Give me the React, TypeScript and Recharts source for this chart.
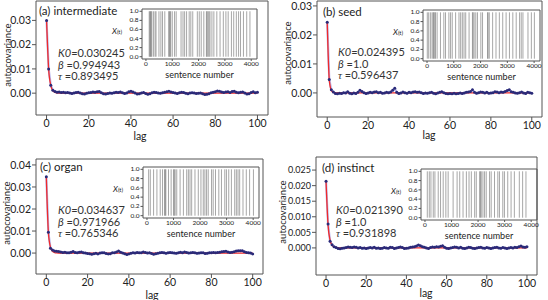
import React from 'react'
import { ComposedChart, Line, XAxis, YAxis, ReferenceArea, ReferenceLine } from 'recharts'

// lag 0..100
const lags = Array.from({ length: 101 }, (_, i) => i)

const acovA = [
  0.0300, 0.0100, 0.0033, 0.0012, 0.0007, 0.0004, 0.0005, 0.0003, 0.0004, 0.0002,
  0.0003, 0.0001, -0.0001, 0.0001, 0.0003, 0.0004, 0.0001, -0.0002, -0.0003, 0.0000,
  0.0002, 0.0003, 0.0005, 0.0004, 0.0006, 0.0007, 0.0002, -0.0002, -0.0003, -0.0001,
  0.0001, 0.0000, 0.0002, 0.0004, 0.0003, 0.0005, 0.0002, -0.0001, 0.0001, 0.0006,
  0.0008, 0.0005, 0.0001, -0.0003, -0.0002, 0.0001, 0.0003, -0.0001, -0.0004, -0.0002,
  0.0002, 0.0004, 0.0003, 0.0001, 0.0000, 0.0002, 0.0004, 0.0006, 0.0008, 0.0005,
  0.0003, 0.0001, -0.0001, 0.0002, 0.0004, 0.0003, 0.0000, -0.0002, 0.0001, 0.0002,
  0.0001, -0.0001, 0.0000, 0.0001, -0.0002, -0.0005, -0.0004, -0.0002, 0.0002, 0.0004,
  0.0006, 0.0009, 0.0008, 0.0005, 0.0003, 0.0005, 0.0006, 0.0003, 0.0007, 0.0008,
  0.0004, 0.0002, 0.0004, 0.0005, 0.0001, -0.0003, -0.0002, 0.0003, 0.0006, 0.0002,
  0.0004,
]
const acovB = [
  0.0244, 0.0046, 0.0011, 0.0003, -0.0002, -0.0003, -0.0001, -0.0002, 0.0001, 0.0000,
  0.0004, -0.0001, -0.0003, 0.0000, -0.0002, 0.0002, 0.0009, 0.0005, 0.0001, -0.0002,
  0.0000, 0.0002, 0.0001, 0.0003, 0.0004, 0.0001, 0.0002, -0.0001, 0.0000, 0.0002,
  0.0001, 0.0003, 0.0009, 0.0016, 0.0002, -0.0002, 0.0000, 0.0003, 0.0001, -0.0001,
  0.0002, 0.0001, 0.0003, 0.0004, 0.0002, 0.0003, 0.0001, -0.0002, 0.0000, -0.0001,
  0.0001, 0.0002, -0.0001, -0.0003, 0.0000, 0.0002, 0.0004, 0.0001, -0.0002, -0.0003,
  -0.0002, -0.0003, -0.0001, -0.0003, -0.0002, 0.0000, -0.0002, 0.0000, 0.0002, 0.0003,
  0.0005, 0.0011, 0.0002, -0.0001, 0.0001, 0.0003, 0.0002, 0.0000, 0.0002, -0.0001,
  0.0000, 0.0001, 0.0004, 0.0003, 0.0001, 0.0003, 0.0002, 0.0005, 0.0008, 0.0011,
  0.0004, 0.0002, 0.0000, -0.0001, 0.0001, 0.0003, 0.0000, -0.0002, 0.0002, 0.0001,
  -0.0001,
]
const acovC = [
  0.0346, 0.0095, 0.0022, 0.0014, 0.0009, 0.0008, 0.0007, 0.0005, 0.0003, 0.0004,
  0.0001, 0.0002, 0.0004, 0.0007, 0.0003, 0.0001, 0.0004, 0.0005, 0.0002, 0.0000,
  -0.0002, -0.0003, -0.0005, -0.0003, -0.0001, -0.0004, 0.0000, 0.0002, 0.0001, -0.0002,
  -0.0004, -0.0003, 0.0001, 0.0002, 0.0005, 0.0009, 0.0004, 0.0000, -0.0003, -0.0006,
  -0.0004, -0.0001, 0.0002, 0.0000, 0.0003, 0.0001, 0.0002, 0.0005, 0.0003, 0.0000,
  0.0001, -0.0002, -0.0005, -0.0003, -0.0001, 0.0001, 0.0003, 0.0002, -0.0001, 0.0001,
  0.0003, 0.0002, 0.0000, -0.0001, 0.0001, 0.0004, 0.0002, 0.0005, 0.0003, 0.0000,
  0.0001, 0.0003, 0.0001, -0.0001, 0.0000, 0.0002, 0.0001, -0.0002, -0.0001, 0.0001,
  0.0002, 0.0003, 0.0001, 0.0003, 0.0004, 0.0006, 0.0007, 0.0008, 0.0005, 0.0003,
  0.0004, 0.0006, 0.0009, 0.0010, 0.0011, 0.0010, 0.0006, 0.0003, 0.0002, 0.0000,
  -0.0004,
]
const acovD = [
  0.0214, 0.0077, 0.0021, 0.0010, 0.0004, 0.0001, -0.0002, -0.0003, -0.0001, 0.0000,
  0.0001, 0.0003, 0.0002, 0.0001, 0.0003, 0.0002, 0.0000, 0.0001, -0.0001, 0.0000,
  -0.0002, 0.0000, 0.0001, 0.0000, 0.0002, -0.0001, 0.0000, -0.0002, -0.0001, 0.0001,
  0.0000, -0.0001, 0.0002, 0.0001, -0.0002, 0.0000, 0.0001, 0.0003, 0.0001, -0.0002,
  -0.0001, 0.0000, 0.0002, 0.0003, 0.0004, 0.0006, 0.0009, 0.0007, 0.0004, 0.0002,
  0.0000, -0.0002, 0.0001, 0.0003, 0.0002, 0.0004, 0.0003, 0.0005, 0.0007, 0.0002,
  -0.0001, -0.0002, 0.0000, 0.0001, 0.0003, 0.0002, 0.0000, 0.0002, -0.0001, -0.0002,
  0.0000, 0.0002, 0.0001, -0.0001, -0.0002, 0.0000, 0.0001, 0.0002, 0.0000, -0.0001,
  0.0001, 0.0000, -0.0002, 0.0000, 0.0001, 0.0002, 0.0000, -0.0001, 0.0001, 0.0000,
  -0.0002, 0.0000, 0.0001, 0.0000, 0.0002, 0.0001, 0.0004, 0.0006, 0.0003, 0.0002,
  0.0004,
]

// fitted curves (red), sampled at these lags
const fitLags = [0, 1, 2, 3, 4, 5, 6, 7, 8, 100]
const fitA = [0.030245, 0.00988, 0.00325, 0.00107, 0.00035, 0.00012, 0.00004, 0.00001, 0.0, 0.0]
const fitB = [0.024395, 0.00456, 0.00085, 0.00016, 0.00003, 0.00001, 0.0, 0.0, 0.0, 0.0]
const fitC = [0.034637, 0.00947, 0.00272, 0.00079, 0.00023, 0.00007, 0.00002, 0.0, 0.0, 0.0]
const fitD = [0.02139, 0.00732, 0.0025, 0.00086, 0.00029, 0.0001, 0.00003, 0.00001, 0.0, 0.0]

// sentence numbers where the word occurs (inset barcodes)
const occA = [
  124, 148, 173, 198, 222, 284, 346, 383, 494, 568, 630, 716, 865, 889, 914, 939, 1000,
  1087, 1149, 1334, 1408, 1470, 1544, 1643, 1705, 1779, 1952, 2026, 2100, 2199, 2297,
  2322, 2359, 2396, 2433, 2507, 2581, 2693, 2816, 2940, 3038, 3125, 3248, 3335, 3434,
  3520, 3594, 3705, 3829, 3952,
]
const occB = [
  10, 62, 125, 188, 230, 251, 290, 314, 377, 502, 628, 691, 817, 880, 942, 1068, 1194,
  1257, 1319, 1382, 1445, 1571, 1696, 1720, 1759, 1822, 1885, 2011, 2074, 2262, 2280,
  2325, 2451, 2576, 2702, 2828, 2954, 3079, 3205, 3331, 3457, 3519, 3583, 3771, 3897, 4010,
]
const occC = [
  62, 125, 249, 374, 499, 586, 661, 690, 711, 811, 910, 998, 1030, 1060, 1122, 1247, 1372,
  1496, 1559, 1621, 1684, 1808, 1933, 2033, 2120, 2182, 2245, 2307, 2432, 2494, 2581,
  2706, 2806, 2931, 2993, 3080, 3180, 3305, 3367, 3430, 3492, 3617, 3741, 3866, 4010,
]
const occD = [
  87, 162, 224, 312, 374, 499, 586, 686, 786, 873, 1060, 1210, 1309, 1434, 1559, 1659,
  1746, 1871, 1933, 2058, 2090, 2120, 2183, 2245, 2307, 2432, 2494, 2619, 2744, 2806,
  2931, 2993, 3118, 3243, 3367, 3554, 3679, 3804,
]

const lagTicks = [0, 20, 40, 60, 80, 100]
const insetXTicks = [0, 1000, 2000, 3000, 4000]
const insetYTicks = [0, 0.2, 0.4, 0.6, 0.8, 1.0]
const insetXDomain: [number, number] = [-150, 4220]
const insetYDomain: [number, number] = [-0.05, 1.05]

const FONT = 'Lato, "DejaVu Sans", sans-serif'
const AX = '#555'
const TXT = '#222'

interface PanelProps {
  left: number
  top: number
  title: string
  acov: number[]
  fit: number[]
  occ: number[]
  params: [string, string, string]
  yTicks: number[]
  yDomain: [number, number]
  digits: number
  tickFont: number
  frame: { l: number; t: number; r: number; b: number }
  inset: { l: number; t: number; w: number; h: number }
  titlePos: [number, number]
  paramPos: [number, number]
  yLabelPos: [number, number]
  lagPos: [number, number]
}

function Inset({ occ, box }: { occ: number[]; box: { l: number; t: number; w: number; h: number } }) {
  const yw = 22
  const xh = 12
  const W = box.w + yw + 4
  const H = box.h + xh + 1
  const rows = occ.map(t => ({ t, v: 0.5 }))
  const perPx = (insetXDomain[1] - insetXDomain[0]) / box.w
  const fullDomain: [number, number] = [insetXDomain[0] - yw * perPx, insetXDomain[1]]
  const tickLen = 2.5 * perPx
  const ySpan = insetYDomain[1] - insetYDomain[0]
  return (
    <div style={{ position: 'absolute', left: box.l - yw, top: box.t - 1, width: W, height: H + 12, zIndex: 2 }}>
      <ComposedChart width={W} height={H} data={rows}
        margin={{ top: 1, right: 4, left: 0, bottom: 0 }}>
        <XAxis type="number" dataKey="t" domain={fullDomain} ticks={insetXTicks} allowDataOverflow
          height={xh} tickSize={2} tickMargin={0} axisLine={false} tickLine={{ stroke: AX }}
          tick={{ fontSize: 6.5, fill: TXT, fontFamily: FONT }} interval={0} />
        <YAxis type="number" domain={insetYDomain} allowDataOverflow hide />
        <Line dataKey="v" stroke="none" dot={false} activeDot={false} isAnimationActive={false} />
        {occ.map((t, i) => (
          <ReferenceLine key={i} segment={[{ x: t, y: 0 }, { x: t, y: 1 }]}
            stroke="#6a6a6a" strokeOpacity={0.6} strokeWidth={1} />
        ))}
        {insetYTicks.map(v => (
          <ReferenceLine key={'y' + v}
            segment={[{ x: insetXDomain[0] - tickLen, y: v }, { x: insetXDomain[0], y: v }]}
            stroke={AX} strokeWidth={1} />
        ))}
        <ReferenceArea x1={insetXDomain[0]} x2={insetXDomain[1]} y1={insetYDomain[0]} y2={insetYDomain[1]}
          fill="none" stroke={AX} strokeWidth={1} />
      </ComposedChart>
      {insetYTicks.map(v => (
        <div key={'yl' + v} style={{
          position: 'absolute', right: W - yw + 3.5, top: 1 + ((insetYDomain[1] - v) / ySpan) * box.h - 4,
          fontSize: 6.5, lineHeight: '8px', fontFamily: FONT, color: TXT, whiteSpace: 'nowrap',
        }}>
          {v.toFixed(1)}
        </div>
      ))}
      <div style={{ position: 'absolute', left: -8, top: box.h * 0.36, fontSize: 8, fontFamily: FONT, color: TXT, whiteSpace: 'nowrap' }}>
        <i>X</i><span style={{ fontSize: 6 }}>(t)</span>
      </div>
      <div style={{ position: 'absolute', left: yw, width: box.w, top: box.h + xh - 1, textAlign: 'center', fontSize: 9, fontFamily: FONT, color: TXT, whiteSpace: 'nowrap' }}>
        sentence number
      </div>
    </div>
  )
}

function Panel(p: PanelProps) {
  const data = lags.map((lag, i) => ({ lag, acov: p.acov[i] }))
  const fitRows = fitLags.map((lag, i) => ({ lag, fit: p.fit[i] }))
  const W = 274
  const H = 150
  return (
    <div style={{ position: 'absolute', left: p.left, top: p.top, width: W, height: H }}>
      <div style={{ position: 'absolute', left: 0, top: 0, zIndex: 1 }}>
        <ComposedChart width={W} height={H} data={data}
          margin={{ top: p.frame.t, right: W - p.frame.r, left: 0, bottom: 0 }}>
          <XAxis type="number" dataKey="lag" domain={[-5, 105]} ticks={lagTicks} allowDataOverflow
            height={H - p.frame.b} tickSize={4} tickMargin={1} axisLine={false} tickLine={{ stroke: AX }}
            tick={{ fontSize: 10.5, fill: TXT, fontFamily: FONT }} interval={0} />
          <YAxis type="number" domain={p.yDomain} ticks={p.yTicks} allowDataOverflow width={p.frame.l}
            tickSize={4} tickMargin={1} axisLine={false} tickLine={{ stroke: AX }}
            tick={{ fontSize: p.tickFont, fill: TXT, fontFamily: FONT }} interval={0}
            tickFormatter={(v: number) => v.toFixed(p.digits)} />
          <Line dataKey="acov" type="linear" stroke="#7c7cdc" strokeOpacity={0.55} strokeWidth={2.2}
            dot={{ r: 1.5, fill: '#2a2a78', stroke: 'none' }} isAnimationActive={false} />
          <Line data={fitRows} dataKey="fit" type="monotone" stroke="#f02a2a" strokeWidth={1.3}
            dot={false} isAnimationActive={false} />
          <ReferenceArea x1={-5} x2={105} y1={p.yDomain[0]} y2={p.yDomain[1]} fill="none" stroke={AX} strokeWidth={1} />
        </ComposedChart>
      </div>
      <div style={{ position: 'absolute', left: p.titlePos[0], top: p.titlePos[1] - 7, fontSize: 11.5, lineHeight: '14px', fontFamily: FONT, color: TXT, whiteSpace: 'nowrap', zIndex: 3 }}>
        {p.title}
      </div>
      <div style={{ position: 'absolute', left: p.paramPos[0], top: p.paramPos[1] - 6, fontSize: 11, lineHeight: '11.5px', fontFamily: FONT, color: '#333', whiteSpace: 'nowrap', zIndex: 3 }}>
        <div><i>K0</i>={p.params[0]}</div>
        <div><i>β</i> ={p.params[1]}</div>
        <div><i style={{ fontFamily: 'serif' }}>τ</i> ={p.params[2]}</div>
      </div>
      <div style={{ position: 'absolute', left: p.yLabelPos[0], top: p.yLabelPos[1], transform: 'translate(-50%, -50%) rotate(-90deg)', fontSize: 9.5, fontFamily: FONT, color: TXT, whiteSpace: 'nowrap', zIndex: 3 }}>
        autocovariance
      </div>
      <div style={{ position: 'absolute', left: p.lagPos[0], top: p.lagPos[1], transform: 'translate(-50%, -50%)', fontSize: 10.5, fontFamily: FONT, color: TXT, zIndex: 3 }}>
        lag
      </div>
      <Inset occ={p.occ} box={{ l: p.inset.l - p.left, t: p.inset.t - p.top, w: p.inset.w, h: p.inset.h }} />
    </div>
  )
}

export default function App() {
  return (
    <div style={{ position: 'absolute', left: 0, top: 0, width: 548, height: 300, background: '#fff' }}>
      <Panel left={0} top={0} title="(a) intermediate" acov={acovA} fit={fitA} occ={occA}
        params={['0.030245', '0.994943', '0.893495']}
        yTicks={[0, 0.01, 0.02, 0.03]} yDomain={[-0.009, 0.038]} digits={2} tickFont={10.5}
        frame={{ l: 36, t: 1, r: 268, b: 115 }} inset={{ l: 142, t: 9, w: 115, h: 50 }}
        titlePos={[39, 11]} paramPos={[58, 53]} yLabelPos={[7, 55]} lagPos={[140, 136]} />
      <Panel left={274} top={0} title="(b) seed" acov={acovB} fit={fitB} occ={occB}
        params={['0.024395', '1.0', '0.596437']}
        yTicks={[0, 0.01, 0.02, 0.03]} yDomain={[-0.0083, 0.0317]} digits={2} tickFont={10.5}
        frame={{ l: 43, t: 1, r: 268, b: 117 }} inset={{ l: 423, t: 10, w: 117, h: 51 }}
        titlePos={[49, 12]} paramPos={[64, 52]} yLabelPos={[13, 53]} lagPos={[155, 135]} />
      <Panel left={0} top={150} title="(c) organ" acov={acovC} fit={fitC} occ={occC}
        params={['0.034637', '0.971966', '0.765346']}
        yTicks={[0, 0.01, 0.02, 0.03, 0.04]} yDomain={[-0.0095, 0.0427]} digits={2} tickFont={10.5}
        frame={{ l: 36, t: 9, r: 263, b: 124 }} inset={{ l: 143, t: 167, w: 116, h: 51 }}
        titlePos={[40, 17]} paramPos={[58, 60]} yLabelPos={[6, 63]} lagPos={[152, 145]} />
      <Panel left={274} top={150} title="(d) instinct" acov={acovD} fit={fitD} occ={occD}
        params={['0.021390', '1.0', '0.931898']}
        yTicks={[0, 0.005, 0.01, 0.015, 0.02, 0.025]} yDomain={[-0.0087, 0.0292]} digits={3} tickFont={9}
        frame={{ l: 42, t: 7, r: 263, b: 125 }} inset={{ l: 421, t: 169, w: 116, h: 51 }}
        titlePos={[48, 18]} paramPos={[62, 60]} yLabelPos={[8, 62]} lagPos={[152, 143]} />
    </div>
  )
}
